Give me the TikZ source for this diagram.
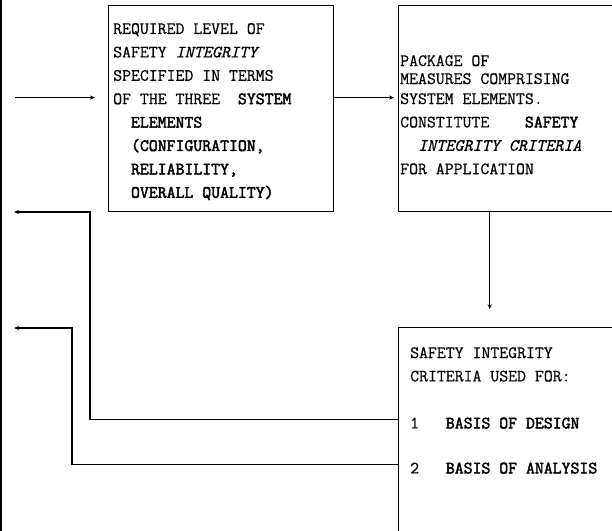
\documentclass[tikz,border=0pt]{standalone}
\usepackage{fontspec}
\setmonofont{Latin Modern Mono}[FakeBold=0.6,AutoFakeBold=2.4]
\usetikzlibrary{arrows.meta,positioning}

\begin{document}
\begin{tikzpicture}[
  x=1pt,y=-1pt,
  font=\fontsize{17.3}{23.4}\selectfont\ttfamily,
  box/.style={draw,line width=1.1pt,minimum width=230pt,minimum height=206pt,inner sep=0pt},
  txt/.style={align=left,inner sep=0pt,anchor=north west},
  link/.style={line width=1.1pt},
  feed/.style={link,-{Stealth[length=5pt,width=4pt]}},
]
\useasboundingbox (0,0) rectangle (612,530);
\clip (0,0) rectangle (612,530);

% boxes
\node[box,line width=1.6pt,minimum width=100pt,minimum height=600pt,anchor=north east] (sys) at (2,-30) {};
\node[box,minimum width=225pt,anchor=north west] (b1) at (108,5) {};
\node[box,right=64pt of b1] (b2) {};
\node[box,below=115pt of b2,minimum height=220pt] (b3) {};

% texts
\node[txt] (t1) at (113,23) {REQUIRED LEVEL OF\\
SAFETY \textit{INTEGRITY}\\
SPECIFIED IN TERMS\\
OF THE THREE\ \ \textbf{SYSTEM}\\
\hphantom{XX}\textbf{ELEMENTS}\\
\hphantom{XX}\textbf{(CONFIGURATION,}\\
\hphantom{XX}\textbf{RELIABILITY,}\\
\hphantom{XX}\textbf{OVERALL QUALITY)}};
\node[txt] (t2) at (400,55) {PACKAGE OF\\[-5.4pt]
MEASURES COMPRISING\\[-3.4pt]
SYSTEM ELEMENTS.\\
CONSTITUTE\ \ \ \ \textbf{SAFETY}\\
\hphantom{XX}\textbf{\textit{INTEGRITY CRITERIA}}\\
FOR APPLICATION};
\node[txt] (t3) at (410,347) {SAFETY INTEGRITY\\
CRITERIA USED FOR:\\[23.6pt]
1\ \ \ \textbf{BASIS OF DESIGN}\\[21.6pt]
2\ \ \ \textbf{BASIS OF ANALYSIS}};

% connectors
\coordinate (in1) at ([yshift=11pt]b1.west);
\coordinate (fb1) at (90,212);
\coordinate (fb2) at (72,328);
\draw[feed,shorten <=13pt,shorten >=13pt] (sys.east |- in1) -- (in1);
\draw[feed,shorten >=4pt] ([yshift=11pt]b1.east) -- ([yshift=11pt]b2.west);
\draw[feed,shorten >=18pt] ([xshift=-24pt]b2.south) -- ([xshift=-24pt]b3.north);
\draw[feed,shorten >=12pt] ([yshift=18pt]b3.west) -| (fb1) -- (sys.east |- fb1);
\draw[feed,shorten >=12pt] ([yshift=-27pt]b3.west) -| (fb2) -- (sys.east |- fb2);
\end{tikzpicture}
\end{document}
